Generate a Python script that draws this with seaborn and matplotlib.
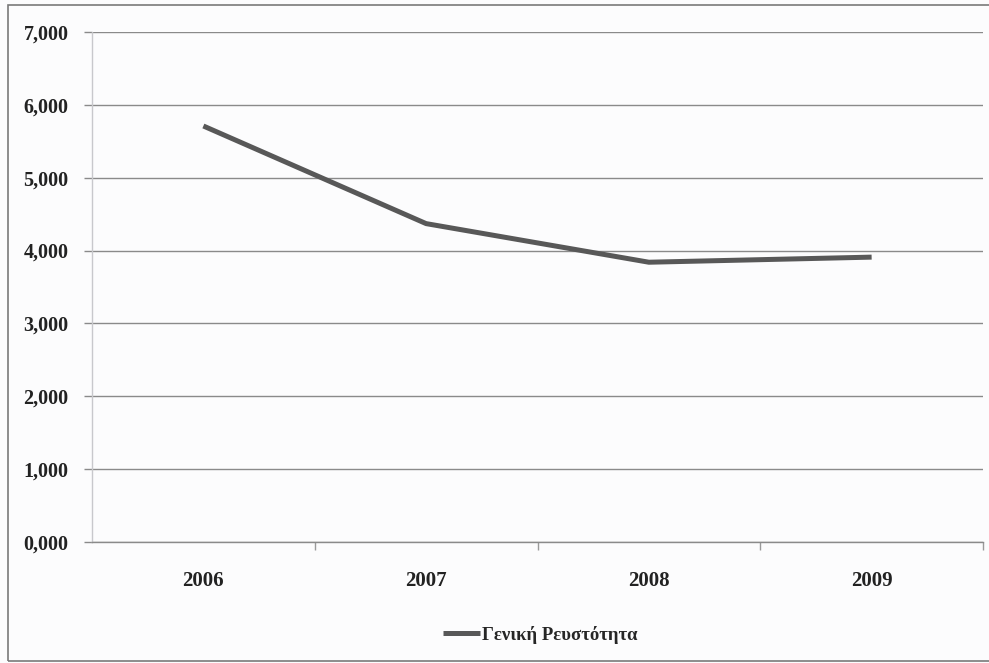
import matplotlib
matplotlib.use("Agg")
import matplotlib.pyplot as plt
import matplotlib.ticker as mticker
from matplotlib.patches import Rectangle
import seaborn as sns
import pandas as pd

years = ["2006", "2007", "2008", "2009"]
liquidity = [5.71, 4.37, 3.84, 3.91]
series_name = "Γενική Ρευστότητα"
y_ticks = [0, 1, 2, 3, 4, 5, 6, 7]

df = pd.DataFrame({"year": years, "value": liquidity, "series": series_name})

sns.set_theme(style="white")
plt.rcParams["font.family"] = ["Liberation Serif", "DejaVu Serif"]
plt.rcParams["font.weight"] = "bold"

W, H = 989, 663
fig = plt.figure(figsize=(W / 100, H / 100), dpi=100)
fig.patch.set_facecolor("#fcfcfd")
ax = fig.add_axes([92 / W, 1 - 542 / H, (983 - 92) / W, (542 - 32) / H])
ax.set_facecolor("#fcfcfd")

sns.lineplot(data=df, x="year", y="value", hue="series", palette=["#585858"],
             linewidth=3.6, ax=ax, sort=False, legend=True,
             solid_capstyle="butt")

ax.set_xlim(-0.5, len(years) - 0.5)
ax.set_ylim(0, 7)
ax.set_yticks(y_ticks)
ax.yaxis.set_major_formatter(
    mticker.FuncFormatter(lambda v, _: f"{v:.3f}".replace(".", ",")))
ax.grid(axis="y", color="#8a8a8a", linewidth=1.0)
ax.grid(axis="x", visible=False)
ax.set_axisbelow(True)

for side in ("top", "right"):
    ax.spines[side].set_visible(False)
ax.spines["left"].set_color("#c8c8cc")
ax.spines["left"].set_linestyle((0, (1, 1)))
ax.spines["left"].set_linewidth(1.0)
ax.spines["bottom"].set_color("#8a8a8a")
ax.spines["bottom"].set_linewidth(1.0)

ax.tick_params(axis="y", which="major", length=6, width=1, color="#8a8a8a",
               pad=11, labelsize=14.5, labelcolor="#222222", left=True)
ax.tick_params(axis="x", which="major", length=0, pad=21, labelsize=15,
               labelcolor="#222222")
ax.xaxis.set_minor_locator(mticker.FixedLocator([0.5, 1.5, 2.5, 3.5]))
ax.tick_params(axis="x", which="minor", length=6, width=1, color="#9a9a9a",
               bottom=True)
for lbl in ax.get_xticklabels() + ax.get_yticklabels():
    lbl.set_fontweight("bold")

ax.set_xlabel("")
ax.set_ylabel("")

handles, labels = ax.get_legend_handles_labels()
ax.legend_.remove()
fig.legend(handles, labels, loc="center", bbox_to_anchor=(540 / W, 1 - 635 / H),
           frameon=False, handlelength=2.0, handletextpad=0.1,
           prop={"family": ["Liberation Serif"], "weight": "bold", "size": 13.5})

fig.patches.append(Rectangle((8 / W, 2 / H), (W - 6) / W, (H - 7) / H,
                             transform=fig.transFigure, fill=False,
                             edgecolor="#7a7a7a", linewidth=1.2))

fig.savefig("out.png", dpi=100, facecolor=fig.get_facecolor())
